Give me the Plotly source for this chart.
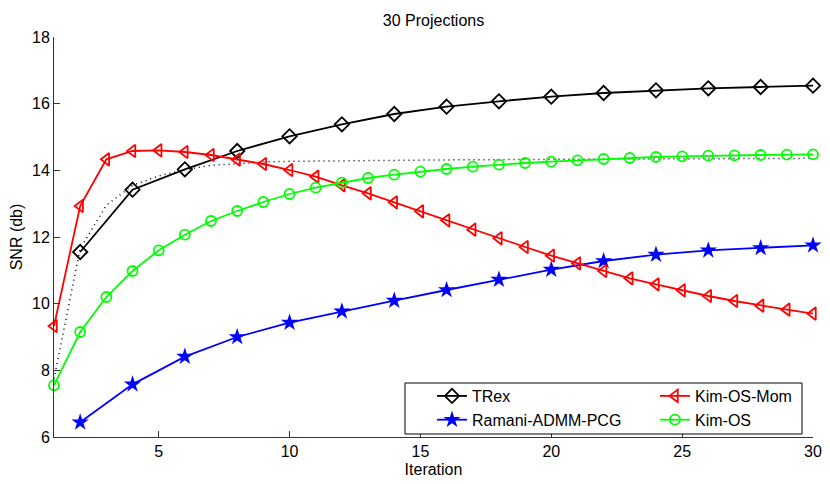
import plotly.graph_objects as go

# data
iters = list(range(1, 31))
iters_even = list(range(2, 31, 2))

trex = [11.55, 13.42, 14.03, 14.58, 15.02, 15.38, 15.69, 15.91,
        16.07, 16.21, 16.32, 16.40, 16.46, 16.50, 16.54]
ramani = [6.44, 7.58, 8.41, 9.00, 9.43, 9.77, 10.09, 10.41,
          10.72, 11.02, 11.28, 11.47, 11.60, 11.67, 11.75]
kim_os_mom = [9.33, 12.93, 14.33, 14.58, 14.60, 14.55, 14.46, 14.32, 14.19, 14.01,
              13.81, 13.55, 13.31, 13.04, 12.77, 12.50, 12.22, 11.96, 11.70, 11.44,
              11.21, 10.98, 10.76, 10.58, 10.40, 10.23, 10.08, 9.94, 9.82, 9.70]
kim_os = [7.55, 9.15, 10.20, 10.98, 11.60, 12.07, 12.48, 12.78, 13.05, 13.29,
          13.48, 13.63, 13.77, 13.87, 13.96, 14.04, 14.11, 14.17, 14.22, 14.26,
          14.30, 14.34, 14.37, 14.40, 14.42, 14.44, 14.45, 14.46, 14.47, 14.48]
dotted = [7.75, 11.65, 12.95, 13.55, 13.83, 14.02, 14.15, 14.21, 14.25, 14.27,
          14.28, 14.29, 14.30, 14.30, 14.31, 14.31, 14.32, 14.32, 14.33, 14.33,
          14.33, 14.34, 14.34, 14.34, 14.35, 14.35, 14.35, 14.36, 14.36, 14.36]

x_ticks = [5, 10, 15, 20, 25, 30]
y_ticks = [6, 8, 10, 12, 14, 16, 18]

FONT = "Liberation Sans, Arial, Helvetica, sans-serif"

fig = go.Figure()

fig.add_trace(go.Scatter(x=iters, y=dotted, mode='lines', showlegend=False,
                         line=dict(color='black', width=1.5, dash='1px,4px'),
                         cliponaxis=False))
fig.add_trace(go.Scatter(x=iters_even, y=trex, mode='lines+markers', name='TRex',
                         line=dict(color='black', width=1.8),
                         marker=dict(symbol='diamond-open', size=11, color='black',
                                     line=dict(width=1.8)),
                         legend='legend', cliponaxis=False))
fig.add_trace(go.Scatter(x=iters_even, y=ramani, mode='lines+markers', name='Ramani-ADMM-PCG',
                         line=dict(color='#0000ff', width=1.8),
                         marker=dict(symbol='star', size=13, color='#0000ff'),
                         legend='legend', cliponaxis=False))
fig.add_trace(go.Scatter(x=iters, y=kim_os_mom, mode='lines+markers', name='Kim-OS-Mom',
                         line=dict(color='#ff0000', width=1.8),
                         marker=dict(symbol='triangle-left-open', size=11, color='#ff0000',
                                     line=dict(width=1.8)),
                         legend='legend2', cliponaxis=False))
fig.add_trace(go.Scatter(x=iters, y=kim_os, mode='lines+markers', name='Kim-OS',
                         line=dict(color='#00ff00', width=1.8),
                         marker=dict(symbol='circle-open', size=10, color='#00ff00',
                                     line=dict(width=1.8)),
                         legend='legend2', cliponaxis=False))

# the page body adds an 8px margin, so the figure is a bit smaller than the window
OFF = 8
W, H = 830 - OFF, 484 - OFF
L, R, T, B = 54 - OFF, 17, 37 - OFF, 47
pw, ph = W - L - R, H - T - B

def px_x(p):
    return (p - OFF - L) / pw

def px_y(p):
    return (H - B - (p - OFF)) / ph

legend_style = dict(bgcolor='rgba(0,0,0,0)', borderwidth=0,
                    font=dict(family=FONT, size=16, color='black'),
                    tracegroupgap=0, itemwidth=30,
                    xanchor='left', yanchor='top', orientation='v')

fig.update_layout(
    width=W, height=H,
    margin=dict(l=L, r=R, t=T, b=B, autoexpand=False),
    paper_bgcolor='white', plot_bgcolor='white',
    font=dict(family=FONT, size=16, color='black'),
    title=dict(text='30 Projections', x=(L + pw / 2) / W, xanchor='center',
               y=1 - 12 / H, yanchor='middle', yref='container',
               font=dict(family=FONT, size=16, color='black')),
    legend=dict(x=px_x(432), y=px_y(379), **legend_style),
    legend2=dict(x=px_x(655), y=px_y(379), **legend_style),
    shapes=[dict(type='rect', xref='paper', yref='paper',
                 x0=px_x(405), x1=px_x(802), y0=px_y(434), y1=px_y(383),
                 line=dict(color='black', width=1), fillcolor='white', layer='above')],
)

fig.update_xaxes(range=[1, 30], tickvals=x_ticks, ticks='inside', ticklen=6,
                 tickcolor='#333', showline=True, linecolor='#333', linewidth=1,
                 showgrid=False, zeroline=False, automargin=False,
                 title=dict(text='Iteration', font=dict(size=16), standoff=4),
                 tickfont=dict(size=16))
fig.update_yaxes(range=[6, 18], tickvals=y_ticks, ticks='inside', ticklen=6,
                 tickcolor='#333', showline=True, linecolor='#333', linewidth=1,
                 showgrid=False, zeroline=False, automargin=False,
                 title=dict(text='SNR (db)', font=dict(size=16), standoff=6),
                 tickfont=dict(size=16))

fig.write_html("out.html")
